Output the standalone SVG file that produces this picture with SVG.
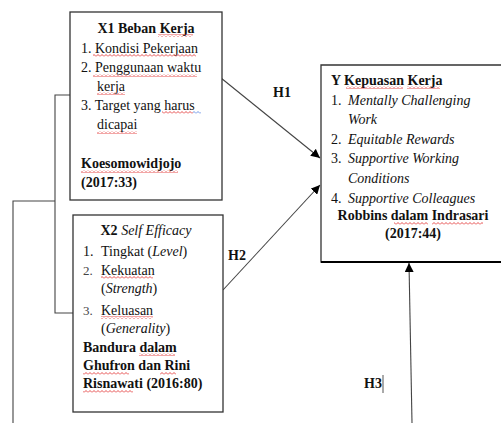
<svg xmlns="http://www.w3.org/2000/svg" width="501" height="423" viewBox="0 0 501 423">
<style>
text{font-family:"Liberation Serif","Times New Roman",serif;font-size:14px;fill:#111}
.b{font-weight:bold}
.i{font-style:italic}
.box{fill:#fff;stroke:#333;stroke-width:1.3}
.ln{fill:none;stroke:#444;stroke-width:1.1}
.sq{fill:url(#zz)}
.sqb{fill:url(#zzb)}
.g{fill:#444;font-size:13px}
</style>
<defs>
<pattern id="zz" width="4" height="3" patternUnits="userSpaceOnUse"><path d="M0 2.5 L2 0.5 L4 2.5" fill="none" stroke="#e02020" stroke-width="0.8"/></pattern>
<pattern id="zzb" width="4" height="3" patternUnits="userSpaceOnUse"><path d="M0 2.5 L2 0.5 L4 2.5" fill="none" stroke="#4a7be0" stroke-width="0.8"/></pattern>
<marker id="ah" viewBox="0 0 10 10" refX="10" refY="5" markerWidth="9" markerHeight="9" markerUnits="userSpaceOnUse" orient="auto"><path d="M0 0 L10 5 L0 10 Z" fill="#000"/></marker>
</defs>

<g id="connectors">
<polyline class="ln" points="70,95 55,95 55,313 73,313"/>
<polyline class="ln" points="55,201 13,201 13,423"/>
<line class="ln" x1="221" y1="78" x2="320" y2="158" marker-end="url(#ah)"/>
<line class="ln" x1="223" y1="290" x2="320" y2="185" marker-end="url(#ah)"/>
<line class="ln" x1="412" y1="423" x2="409" y2="263" marker-end="url(#ah)"/>
<text class="b" x="282" y="97" text-anchor="middle">H1</text>
<text class="b" x="237" y="260" text-anchor="middle">H2</text>
<text class="b" x="364" y="388">H3</text>
<line x1="383" y1="375" x2="383" y2="393" stroke="#555" stroke-width="1"/>
</g>

<g id="x1">
<rect class="box" x="70" y="12" width="152" height="188"/>
<text class="b" x="146" y="33" text-anchor="middle">X1 Beban Kerja</text>
<text x="81" y="53">1. Kondisi Pekerjaan</text>
<text x="81" y="72">2. Penggunaan waktu</text>
<text x="97" y="91">kerja</text>
<text x="81" y="110">3. Target yang harus</text>
<text x="97" y="129">dicapai</text>
<text class="b" x="81" y="168">Koesomowidjojo</text>
<text class="b" x="81" y="187">(2017:33)</text>
<rect class="sq" x="158" y="34" width="35" height="3"/>
<rect class="sq" x="93" y="54" width="103" height="3"/>
<rect class="sq" x="93" y="74" width="104" height="3"/>
<rect class="sq" x="97" y="92" width="28" height="3"/>
<rect class="sq" x="162" y="111" width="31" height="3"/>
<rect class="sqb" x="193" y="111" width="8" height="3"/>
<rect class="sq" x="97" y="131" width="40" height="3"/>
<rect class="sq" x="81" y="170" width="97" height="3"/>
</g>

<g id="x2">
<rect class="box" x="73" y="215" width="150" height="197"/>
<text x="146" y="235" text-anchor="middle"><tspan class="b">X2 </tspan><tspan class="i">Self Efficacy</tspan></text>
<text x="83" y="256">1.</text>
<text x="101" y="256">Tingkat (<tspan class="i">Level</tspan>)</text>
<text class="g" x="83" y="275">2.</text>
<text x="101" y="275">Kekuatan</text>
<text x="101" y="293">(<tspan class="i">Strength</tspan>)</text>
<text class="g" x="83" y="315">3.</text>
<text x="101" y="315">Keluasan</text>
<text x="101" y="333">(<tspan class="i">Generality</tspan>)</text>
<text class="b" x="83" y="352">Bandura dalam</text>
<text class="b" x="83" y="370">Ghufron dan Rini</text>
<text class="b" x="83" y="388">Risnawati (2016:80)</text>
<rect class="sq" x="101" y="276" width="52" height="3"/>
<rect class="sq" x="101" y="316" width="52" height="3"/>
<rect class="sq" x="139" y="353" width="36" height="3"/>
<rect class="sq" x="83" y="372" width="46" height="3"/>
<rect class="sq" x="160" y="372" width="16" height="3"/>
<rect class="sq" x="83" y="390" width="50" height="3"/>
</g>

<g id="y">
<path d="M505 65 L321 65 L321 262 L505 262" fill="#fff" stroke="#333" stroke-width="1.3"/>
<line x1="321" y1="262" x2="501" y2="262" stroke="#000" stroke-width="2"/>
<text class="b" x="331" y="85">Y Kepuasan Kerja</text>
<text x="331" y="105">1.</text>
<text class="i" x="348" y="105">Mentally Challenging</text>
<text class="i" x="348" y="124">Work</text>
<text x="331" y="144">2.</text>
<text class="i" x="348" y="144">Equitable Rewards</text>
<text x="331" y="163">3.</text>
<text class="i" x="348" y="163">Supportive Working</text>
<text class="i" x="348" y="183">Conditions</text>
<text x="331" y="203">4.</text>
<text class="i" x="348" y="203">Supportive Colleagues</text>
<text class="b" x="413" y="220" text-anchor="middle">Robbins dalam Indrasari</text>
<text class="b" x="413" y="238" text-anchor="middle">(2017:44)</text>
<rect class="sq" x="346" y="86" width="57" height="3"/>
<rect class="sq" x="407" y="86" width="33" height="3"/>
<rect class="sq" x="394" y="222" width="34" height="3"/>
<rect class="sq" x="432" y="222" width="51" height="3"/>
</g>
</svg>
